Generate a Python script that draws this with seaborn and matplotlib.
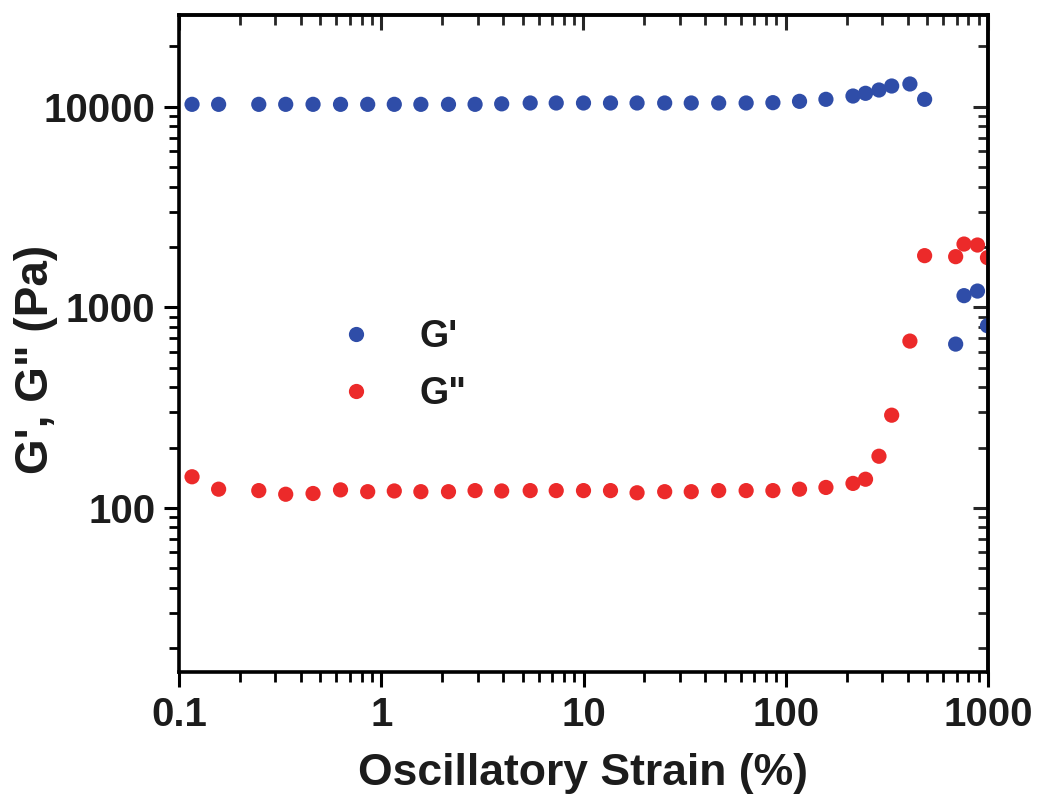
import matplotlib
matplotlib.use("Agg")
import matplotlib.pyplot as plt
import seaborn as sns
import pandas as pd
from matplotlib.ticker import FixedLocator, FixedFormatter, LogLocator, NullFormatter

strain = [0.116, 0.157, 0.248, 0.337, 0.460, 0.629, 0.857, 1.16, 1.57, 2.15,
          2.91, 3.94, 5.45, 7.33, 10.0, 13.6, 18.4, 25.2, 34.1, 46.6,
          63.7, 86.4, 117, 158, 215, 248, 289, 334, 411, 486,
          692, 761, 887, 994]
g_storage = [10290, 10290, 10290, 10290, 10290, 10290, 10290, 10290, 10290, 10290,
             10290, 10350, 10450, 10450, 10450, 10450, 10450, 10450, 10450, 10450,
             10450, 10490, 10650, 10900, 11320, 11680, 12130, 12700, 13000, 10900,
             656, 1144, 1206, 810]
g_loss = [143, 124, 122, 117, 118, 123, 120.5, 121.5, 120.5, 120.5,
          122, 121.5, 122, 122, 122, 122, 119, 120.5, 120.5, 122,
          122, 122, 124, 126.5, 132.5, 139, 181, 290, 679, 1811,
          1790, 2069, 2046, 1770]
series_names = ["G'", 'G"']
series_colors = ["#2F4DA8", "#EC2A2A"]
x_ticks = [0.1, 1, 10, 100, 1000]
x_tick_labels = ["0.1", "1", "10", "100", "1000"]
y_ticks = [100, 1000, 10000]
y_tick_labels = ["100", "1000", "10000"]

df = pd.DataFrame({
    "strain": strain * 2,
    "modulus": g_storage + g_loss,
    "series": [series_names[0]] * len(strain) + [series_names[1]] * len(strain),
})

sns.set_style("ticks")
plt.rcParams["font.family"] = ["Liberation Sans", "DejaVu Sans"]
plt.rcParams["font.weight"] = "bold"
txt_color = "#1c1c1c"

fig = plt.figure(figsize=(10.5, 8.07), dpi=100)
ax = fig.add_axes([179 / 1050, 1 - 672 / 807, (988 - 179) / 1050, (672 - 15) / 807])

sns.scatterplot(data=df, x="strain", y="modulus", hue="series",
                palette=dict(zip(series_names, series_colors)),
                s=120, edgecolor="none", linewidth=0, ax=ax, legend=True)

ax.set_xscale("log")
ax.set_yscale("log")
ax.set_xlim(0.1, 1000)
ax.set_ylim(15.2, 28700)

ax.xaxis.set_major_locator(FixedLocator(x_ticks))
ax.xaxis.set_major_formatter(FixedFormatter(x_tick_labels))
ax.yaxis.set_major_locator(FixedLocator(y_ticks))
ax.yaxis.set_major_formatter(FixedFormatter(y_tick_labels))
ax.xaxis.set_minor_locator(LogLocator(base=10, subs=range(2, 10), numticks=20))
ax.yaxis.set_minor_locator(LogLocator(base=10, subs=range(2, 10), numticks=20))
ax.xaxis.set_minor_formatter(NullFormatter())
ax.yaxis.set_minor_formatter(NullFormatter())

for sp in ax.spines.values():
    sp.set_linewidth(2.6)
    sp.set_color("black")
    sp.set_visible(True)

ax.tick_params(axis="both", which="major", length=11, width=2.2, color="black",
               labelsize=29, labelcolor=txt_color, pad=6)
ax.tick_params(axis="both", which="minor", length=7, width=2.0, color="black")
ax.tick_params(axis="both", which="both", direction="out")

# mirrored ticks pointing inward on top and right
secx = ax.secondary_xaxis("top")
secx.xaxis.set_major_locator(FixedLocator(x_ticks))
secx.xaxis.set_minor_locator(LogLocator(base=10, subs=range(2, 10), numticks=20))
secx.tick_params(which="major", direction="in", length=11, width=2.2, labeltop=False)
secx.tick_params(which="minor", direction="in", length=7, width=2.0)
secx.spines["top"].set_linewidth(2.6)
secy = ax.secondary_yaxis("right")
secy.yaxis.set_major_locator(FixedLocator(y_ticks))
secy.yaxis.set_minor_locator(LogLocator(base=10, subs=range(2, 10), numticks=20))
secy.tick_params(which="major", direction="in", length=11, width=2.2, labelright=False)
secy.tick_params(which="minor", direction="in", length=7, width=2.0)
secy.spines["right"].set_linewidth(2.6)

for lab in ax.get_xticklabels() + ax.get_yticklabels():
    lab.set_fontweight("bold")

ax.set_xlabel("Oscillatory Strain (%)", fontsize=32, fontweight="bold",
              color=txt_color, labelpad=14)
ax.set_ylabel("G', G\" (Pa)", fontsize=33, fontweight="bold", color=txt_color)
ax.yaxis.set_label_coords(-0.150, 0.475)

handles, labels = ax.get_legend_handles_labels()
leg = ax.legend(handles, labels, loc="upper left", frameon=False,
                bbox_to_anchor=(318 / 1050, 1 - 319 / 807),
                bbox_transform=fig.transFigure, borderpad=0, borderaxespad=0,
                fontsize=27, handletextpad=0.7, labelspacing=0.55,
                markerscale=1.0)
for t in leg.get_texts():
    t.set_fontweight("bold")
    t.set_color(txt_color)

fig.savefig("out.png", dpi=100, facecolor="white")
